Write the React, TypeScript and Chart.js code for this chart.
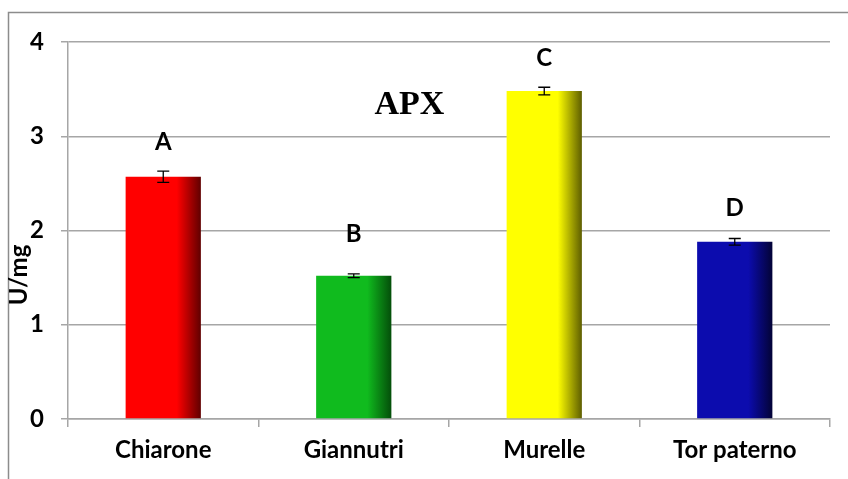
import { useEffect, useRef } from "react";
import { Chart, registerables } from "chart.js";
Chart.register(...registerables);

const categories = ["Chiarone", "Giannutri", "Murelle", "Tor paterno"];
const values = [2.57, 1.52, 3.48, 1.88];
const errors = [0.06, 0.02, 0.04, 0.035];
const letters = ["A", "B", "C", "D"];
const letterLevels = [2.94, 1.96, 3.83, 2.24];
const baseColors = ["#ff0000", "#10bb1e", "#ffff00", "#0c0cae"];
const shadeColors = ["#600000", "#044e0a", "#5e5e00", "#030336"];
const yMin = 0;
const yMax = 4;
const yStep = 1;
const titleText = "APX";
const yTitle = "U/mg";

const FONT = "Lato, 'Open Sans', sans-serif";

const extras = {
  id: "extras",
  beforeDraw(chart: any) {
    const c = chart.ctx;
    c.save();
    c.strokeStyle = "#8c8c8c";
    c.lineWidth = 1.5;
    c.beginPath();
    c.moveTo(8.5, 479);
    c.lineTo(8.5, 12.5);
    c.lineTo(848, 12.5);
    c.stroke();
    c.restore();
  },
  afterDatasetsDraw(chart: any) {
    const c = chart.ctx;
    const xs = chart.scales.x;
    const ys = chart.scales.y;
    const area = chart.chartArea;
    c.save();
    c.strokeStyle = "#000";
    c.lineWidth = 1.3;
    values.forEach((v, i) => {
      const x = xs.getPixelForValue(i);
      const yt = ys.getPixelForValue(v + errors[i]);
      const yb = ys.getPixelForValue(v - errors[i]);
      c.beginPath();
      c.moveTo(x, yt);
      c.lineTo(x, yb);
      c.moveTo(x - 6, yt);
      c.lineTo(x + 6, yt);
      c.moveTo(x - 6, yb);
      c.lineTo(x + 6, yb);
      c.stroke();
    });
    c.fillStyle = "#000";
    c.font = `bold 24px ${FONT}`;
    c.textAlign = "center";
    c.textBaseline = "middle";
    letters.forEach((l, i) => {
      c.fillText(l, xs.getPixelForValue(i), ys.getPixelForValue(letterLevels[i]));
    });
    c.font = "bold 34px 'Liberation Serif', 'Times New Roman', serif";
    c.fillText(titleText, area.left + 0.448 * (area.right - area.left), area.top + 0.167 * (area.bottom - area.top));
    c.font = `bold 24px ${FONT}`;
    c.translate(19, 275);
    c.rotate(-Math.PI / 2);
    c.fillText(yTitle, 0, 0);
    c.restore();
  },
};

export default function App() {
  const ref = useRef<HTMLCanvasElement>(null);
  useEffect(() => {
    document.body.style.margin = "0";
    const canvas = ref.current!;
    const chart = new Chart(canvas, {
      type: "bar",
      data: {
        labels: categories,
        datasets: [
          {
            data: values,
            backgroundColor: (ctx: any) => {
              const ch = ctx.chart;
              const i = ctx.dataIndex;
              const xs = ch.scales?.x;
              if (!xs || i === undefined) return baseColors[i ?? 0];
              const x = xs.getPixelForValue(i);
              const w = (xs.width / categories.length) * 0.395;
              if (!isFinite(x) || !isFinite(w) || w <= 0) return baseColors[i];
              const g = ch.ctx.createLinearGradient(x - w / 2, 0, x + w / 2, 0);
              g.addColorStop(0, baseColors[i]);
              g.addColorStop(0.68, baseColors[i]);
              g.addColorStop(1, shadeColors[i]);
              return g;
            },
            borderWidth: 0,
            categoryPercentage: 1,
            barPercentage: 0.395,
          },
        ],
      },
      options: {
        responsive: false,
        animation: false,
        events: [],
        layout: { padding: { top: 42, right: 18, left: 0, bottom: 0 } },
        plugins: { legend: { display: false }, tooltip: { enabled: false }, title: { display: false } },
        scales: {
          x: {
            afterFit: (s: any) => {
              s.height = 60;
            },
            grid: { display: true, drawOnChartArea: false, offset: true, tickLength: 8, color: "#a6a6a6", lineWidth: 1.5 },
            border: { color: "#a6a6a6", width: 1.5 },
            ticks: { color: "#000", padding: 9, font: { family: FONT, weight: "bold", size: 24 } },
          },
          y: {
            min: yMin,
            max: yMax,
            afterFit: (s: any) => {
              s.width = 68;
            },
            grid: { color: "#a6a6a6", lineWidth: 1.5, tickLength: 7 },
            border: { color: "#a6a6a6", width: 1.5 },
            ticks: { stepSize: yStep, color: "#000", padding: 17, font: { family: FONT, weight: "bold", size: 24 } },
          },
        },
      },
      plugins: [extras],
    } as any);
    return () => chart.destroy();
  }, []);
  return (
    <div style={{ width: 848, height: 479, background: "#fff" }}>
      <canvas ref={ref} width={848} height={479} style={{ display: "block" }} />
    </div>
  );
}
